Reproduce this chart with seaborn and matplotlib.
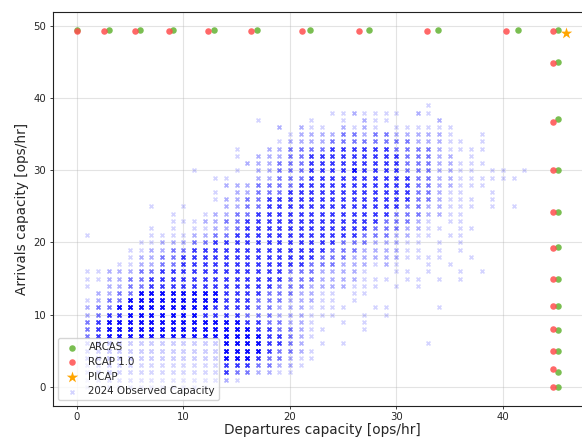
import numpy as np
import pandas as pd
import matplotlib
matplotlib.use("Agg")
import matplotlib.pyplot as plt
import seaborn as sns

# ---------------- data ----------------
# ARCAS (green)
arcas_dep = [0.0, 3.0, 5.9, 9.0, 12.9, 16.9, 21.9, 27.4, 33.9, 41.4, 45.2,
             45.2, 45.2, 45.2, 45.2, 45.2, 45.2, 45.2, 45.2, 45.2, 45.2, 45.2]
arcas_arr = [49.45, 49.45, 49.45, 49.45, 49.45, 49.45, 49.45, 49.45, 49.45, 49.45, 49.45,
             45.0, 37.1, 30.0, 24.2, 19.4, 15.0, 11.2, 7.85, 5.0, 2.1, 0.0]
# RCAP 1.0 (red)
rcap_dep = [0.0, 2.6, 5.5, 8.7, 12.3, 16.4, 21.1, 26.5, 32.9, 40.3, 44.65,
            44.7, 44.7, 44.7, 44.7, 44.7, 44.7, 44.7, 44.7, 44.7, 44.7, 44.7]
rcap_arr = [49.35, 49.35, 49.35, 49.35, 49.35, 49.35, 49.35, 49.35, 49.35, 49.35, 49.35,
            44.85, 36.7, 30.0, 24.2, 19.3, 15.0, 11.2, 8.0, 5.0, 2.45, 0.0]
# PICAP (orange star)
picap_dep = [45.9]
picap_arr = [49.05]

# 2024 observed capacity: for each arrivals value, first departures value and
# a string of density levels (0 = none ... 5 = darkest), one char per integer step
obs_y = list(range(39, -1, -1))
obs_x0 = [33, 24, 17, 19, 20, 19, 15, 15, 16, 11, 13, 14, 13, 13, 7, 9, 9, 7, 1, 6,
          5, 5, 4, 1, 1, 1, 2, 1, 1, 1, 1, 1, 1, 1, 1, 1, 1, 1, 1, 1]
obs_levels = [
    "1",
    "1121111021",
    "100001001021100002",
    "20211021210111111",
    "1222233233222221001",
    "12222333333332221101",
    "100223333444444333321111",
    "10222334444444443332201",
    "22233344444444433322111",
    "10001022" "333" "444454444" "333" "22" "11" "0" "11" "0" "1",
    "11" "00" "22" "333" "4444444444" "33" "22" "111111",
    "222" "3333" "44444444444" "33" "22" "111",
    "10" "22" "333" "444444444444" "33" "2" "11" "00" "1",
    "1" "22" "33" "44444444444444" "33" "2" "111" "0" "1",
    "1001" "000" "22" "33" "4444444444444" "33" "22" "111" "0" "1" "0" "1",
    "100" "122" "33" "4444444444444" "333" "22" "11",
    "111" "22" "33" "4444444444444" "333" "2" "1" "0" "11",
    "10" "1" "0" "11" "22" "3" "444444444444" "333" "22" "11" "0" "11",
    "1" "00000" "1111" "22" "33" "444444444444" "333" "22" "11" "0" "11",
    "11" "222" "33" "444444444444" "333" "222" "11" "0" "1" "0" "1",
    "11" "22" "33" "4444444444444" "333" "2222" "11" "0" "1" "0" "1",
    "1" "22" "33" "4444444444444" "333" "22222" "1111" "00" "1",
    "11" "22" "33" "444444444444" "333" "222" "1" "2" "1" "00" "1" "0" "1",
    "11" "222" "33" "444444444444" "333" "2222" "1" "00" "11" "0" "1" "00" "1" "0" "1",
    "11" "22" "33" "4444444444444" "333" "2222" "111" "0" "11" "0" "1" "0" "1",
    "10" "22" "33" "444444444444" "333" "2222" "111" "0" "1" "0" "1",
    "22" "33" "555555554444" "333" "22" "11" "0" "11",
    "1" "2" "33" "555555555444" "333" "222" "11" "0" "1",
    "233" "5555555554444" "33" "222" "1111" "00" "11" "0000" "1",
    "23" "4455555554444" "333" "222" "111" "00" "1" "0" "1",
    "34" "55555555555554" "4" "33" "22" "1" "00" "1" "0" "1",
    "34" "55555555555555" "44" "33" "2" "11" "000" "1",
    "34" "555555555555555" "44" "3" "2" "1",
    "34" "555555555555555" "44" "3" "2" "0" "1" "0" "1" "0000000" "1",
    "34" "555555555555555" "4" "33" "2" "1",
    "34" "55555555555555" "4" "33" "2" "11",
    "23" "44444444444444" "33" "22" "1",
    "23" "444444444444" "33" "22" "11",
    "12" "33333333333" "2" "1",
    "11" "222222222" "1",
]
level_counts = [0, 1, 2, 4, 8, 16]

rows = []
for y, x0, lv in zip(obs_y, obs_x0, obs_levels):
    for i, ch in enumerate(lv):
        n = level_counts[int(ch)]
        rows.extend([(x0 + i, y)] * n)
obs = pd.DataFrame(rows, columns=["dep", "arr"])

arcas = pd.DataFrame({"dep": arcas_dep, "arr": arcas_arr})
rcap = pd.DataFrame({"dep": rcap_dep, "arr": rcap_arr})
picap = pd.DataFrame({"dep": picap_dep, "arr": picap_arr})

# ---------------- plotting ----------------
sns.set_theme(style="ticks")
plt.rcParams["font.family"] = ["DejaVu Sans"]

fig = plt.figure(figsize=(5.82, 4.38), dpi=100)
ax = fig.add_axes([52.5 / 582, (438 - 405.5) / 438, 539 / 582, (405.5 - 11.6) / 438])

sns.scatterplot(data=arcas, x="dep", y="arr", ax=ax, color="#6cb73e", s=22,
                linewidth=0, alpha=0.9, label="ARCAS", zorder=3)
sns.scatterplot(data=rcap, x="dep", y="arr", ax=ax, color="#ff4d4d", s=22,
                linewidth=0, alpha=0.85, label="RCAP 1.0", zorder=3)
sns.scatterplot(data=picap, x="dep", y="arr", ax=ax, color="orange", marker="*",
                s=75, linewidth=0, label="PICAP", zorder=4)
sns.scatterplot(data=obs, x="dep", y="arr", ax=ax, color="blue", marker="x",
                s=8, linewidth=1.2, alpha=0.17, label="2024 Observed Capacity",
                zorder=2)

ax.set_xlim(-2.27, 48.3)
ax.set_ylim(-2.6, 52.0)
ax.set_xticks([0, 10, 20, 30, 40])
ax.set_yticks([0, 10, 20, 30, 40, 50])
ax.grid(True, color="#b0b0b0", alpha=0.35, linewidth=0.8)
ax.set_axisbelow(True)
for sp in ax.spines.values():
    sp.set_color("#222222")
    sp.set_linewidth(0.8)
ax.tick_params(labelsize=7.3, length=2.5, width=0.6, color="#222222", pad=2)
ax.set_xlabel("Departures capacity [ops/hr]", fontsize=9.8, labelpad=1)
ax.set_ylabel("Arrivals capacity [ops/hr]", fontsize=9.8, labelpad=3)

leg = ax.legend(loc="lower left", fontsize=7.4, frameon=True, borderaxespad=0.5,
                handletextpad=0.6, labelspacing=0.45, borderpad=0.4)
leg.get_frame().set_alpha(0.8)

fig.savefig("out.png", dpi=100)
